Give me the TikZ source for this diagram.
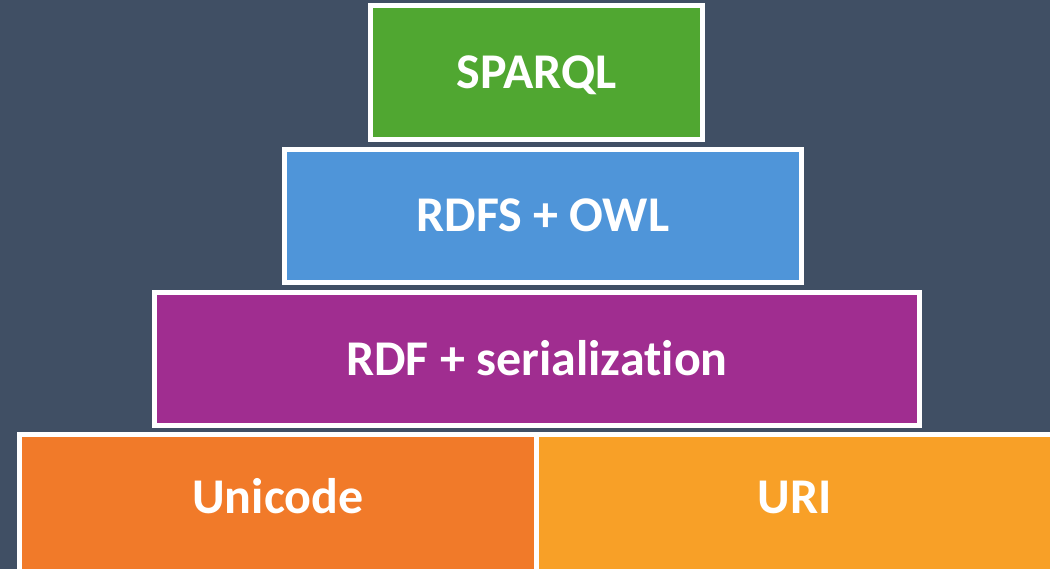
\documentclass[tikz,border=0pt]{standalone}
\usepackage{fontspec}
\setmainfont{Carlito}[Ligatures=NoCommon]
\definecolor{bg}{HTML}{404F64}
\definecolor{sparqlgreen}{HTML}{50A731}
\definecolor{owlblue}{HTML}{4F95D9}
\definecolor{rdfpurple}{HTML}{A02D90}
\definecolor{unicodeorange}{HTML}{F17A29}
\definecolor{uriorange}{HTML}{F8A027}
\tikzset{
  layer/.style={draw=white, line width=5pt, text=white, inner sep=0pt,
    font=\fontsize{50}{58}\selectfont\bfseries,
    text height=32pt, text depth=0pt, align=center},
}
\begin{document}
\begin{tikzpicture}[x=1pt,y=-1pt]
  \useasboundingbox (0,0) rectangle (1050,569);
  \fill[bg] (0,0) rectangle (1050,569);
  \begin{scope}
    \clip (0,0) rectangle (1050,569);
    % bottom row
    \node[layer, fill=uriorange, minimum width=516pt, minimum height=138pt,
          text depth=12pt] (uri) at (794.5,503.5) {URI};
    \node[layer, fill=unicodeorange, minimum width=517pt, minimum height=138pt,
          text depth=12pt] (unicode) at (278,503.5) {Unicode};
    % upper layers
    \node[layer, fill=rdfpurple, minimum width=765pt, minimum height=133pt]
          (rdf) at (537,359) {RDF + serialization};
    \node[layer, fill=owlblue, minimum width=517pt, minimum height=133pt]
          (owl) at (543,216) {RDFS + OWL};
    \node[layer, fill=sparqlgreen, minimum width=332pt, minimum height=134pt]
          (sparql) at (536.5,72.5) {SPARQL};
  \end{scope}
\end{tikzpicture}
\end{document}
